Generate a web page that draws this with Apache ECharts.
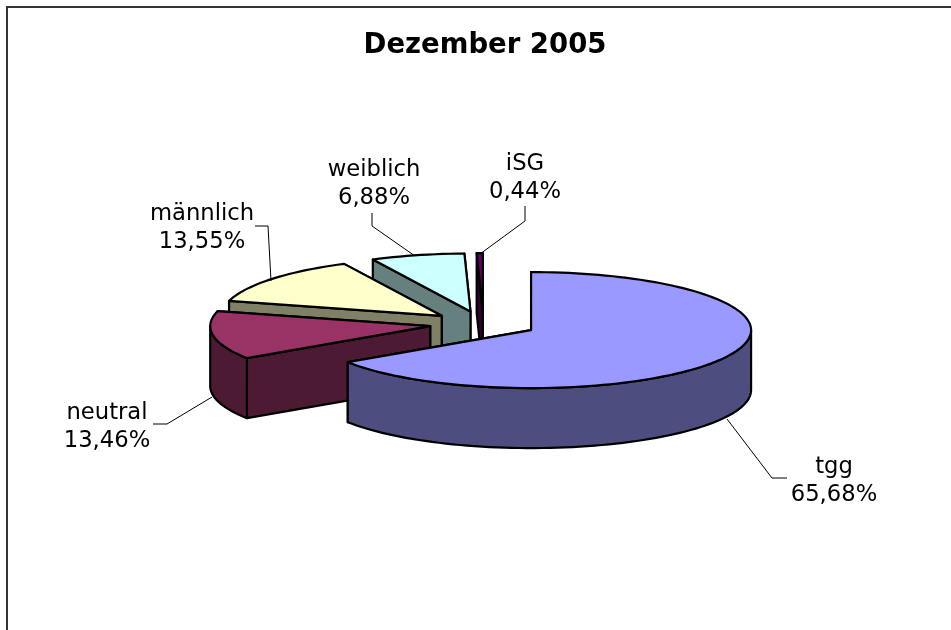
<!DOCTYPE html>
<html><head><meta charset="utf-8">
<style>html,body{margin:0;padding:0;background:#fff}#c{width:951px;height:630px}</style>
<script src="https://cdn.jsdelivr.net/npm/echarts@6/dist/echarts.min.js"></script>
</head><body><div id="c"></div>
<script>
// Data
const categories = ['tgg', 'neutral', 'männlich', 'weiblich', 'iSG'];
const percentages = [65.68, 13.46, 13.55, 6.88, 0.44];
const chartTitle = 'Dezember 2005';

// Styles
const topColors = ['#9999FF', '#993366', '#FFFFCC', '#CCFFFF', '#660066'];
const wallColors = ['#4D4D80', '#4D1A33', '#808066', '#668080', '#330033'];
const font = '"DejaVu Sans", Verdana, sans-serif';

// Projection of the tilted pie
const cx = 483.5, cy = 324, rx = 220, ry = 58, depth = 60, explodeX = 54, explodeY = 12.9;

// Label layout, per category
const labelBlocks = [[834, 481], [107, 427], [202, 228], [374, 184], [525, 178]];
const leaders = [
  [[727, 419], [772, 478], [787, 478]],
  [[212, 397], [167, 424], [153, 424]],
  [[271, 281], [268, 226], [255, 226]],
  [[415, 256], [372, 226], [372, 213]],
  [[480, 254], [525, 221], [525, 206]]
];

const total = percentages.reduce((a, b) => a + b, 0);
const rad = d => d * Math.PI / 180;
const startAngles = [];
percentages.reduce((acc, v, i) => { startAngles[i] = acc; return acc + v / total * 360; }, 0);

function renderSlice(params, api) {
  const i = api.value(0), v = api.value(1);
  const a0 = startAngles[i], a1 = a0 + v / total * 360, mid = (a0 + a1) / 2;
  const ax = cx + explodeX * Math.sin(rad(mid));
  const ay = cy - explodeY * Math.cos(rad(mid));
  const pt = (a, d) => [ax + rx * Math.sin(rad(a)), ay - ry * Math.cos(rad(a)) + (d || 0)];
  const line = { stroke: '#000', lineWidth: 2.2, lineJoin: 'round' };
  const arc = (from, to, d) => {
    const out = [], n = Math.max(2, Math.ceil(Math.abs(to - from) / 2));
    for (let k = 0; k <= n; k++) out.push(pt(from + (to - from) * k / n, d));
    return out;
  };
  const poly = (points, fill) => ({
    type: 'polygon', shape: { points }, style: Object.assign({ fill }, line)
  });
  const wall = wallColors[i], children = [];
  // cut faces: far one first
  children.push(poly([[ax, ay], pt(a1), pt(a1, depth), [ax, ay + depth]], wall));
  children.push(poly([[ax, ay], pt(a0), pt(a0, depth), [ax, ay + depth]], wall));
  // outer rim, only the part facing the viewer (90..270 degrees)
  const f0 = Math.max(a0, 90), f1 = Math.min(a1, 270);
  if (f1 > f0) children.push(poly(arc(f0, f1, 0).concat(arc(f1, f0, depth)), wall));
  // top face
  children.push(poly([[ax, ay]].concat(arc(a0, a1, 0)), topColors[i]));
  return { type: 'group', children };
}

function renderLabel(params, api) {
  const i = api.value(0), v = api.value(1);
  return {
    type: 'group',
    children: [
      { type: 'polyline', shape: { points: leaders[i] },
        style: { stroke: '#000', lineWidth: 1, fill: null } },
      { type: 'text', style: {
          text: categories[i] + '\n' + v.toFixed(2).replace('.', ',') + '%',
          x: labelBlocks[i][0], y: labelBlocks[i][1],
          align: 'center', verticalAlign: 'middle',
          font: '22.7px ' + font, lineHeight: 28, fill: '#000' } }
    ]
  };
}

const items = percentages.map((v, i) => [i, v]);
const chart = echarts.init(document.getElementById('c'), null, { renderer: 'canvas' });
chart.setOption({
  animation: false,
  backgroundColor: '#fff',
  title: {
    text: chartTitle, left: 480, top: 27, textAlign: 'center',
    textStyle: { fontFamily: font, fontWeight: 'bold', fontSize: 27.5, color: '#000' }
  },
  graphic: [
    { type: 'polyline', silent: true,
      shape: { points: [[7, 630], [7, 7], [951, 7]] },
      style: { stroke: '#333', lineWidth: 2, fill: null } }
  ],
  series: [
    { type: 'custom', coordinateSystem: 'none', renderItem: renderSlice, silent: true,
      data: items.slice().reverse() },
    { type: 'custom', coordinateSystem: 'none', renderItem: renderLabel, silent: true,
      data: items }
  ]
});
</script></body></html>
